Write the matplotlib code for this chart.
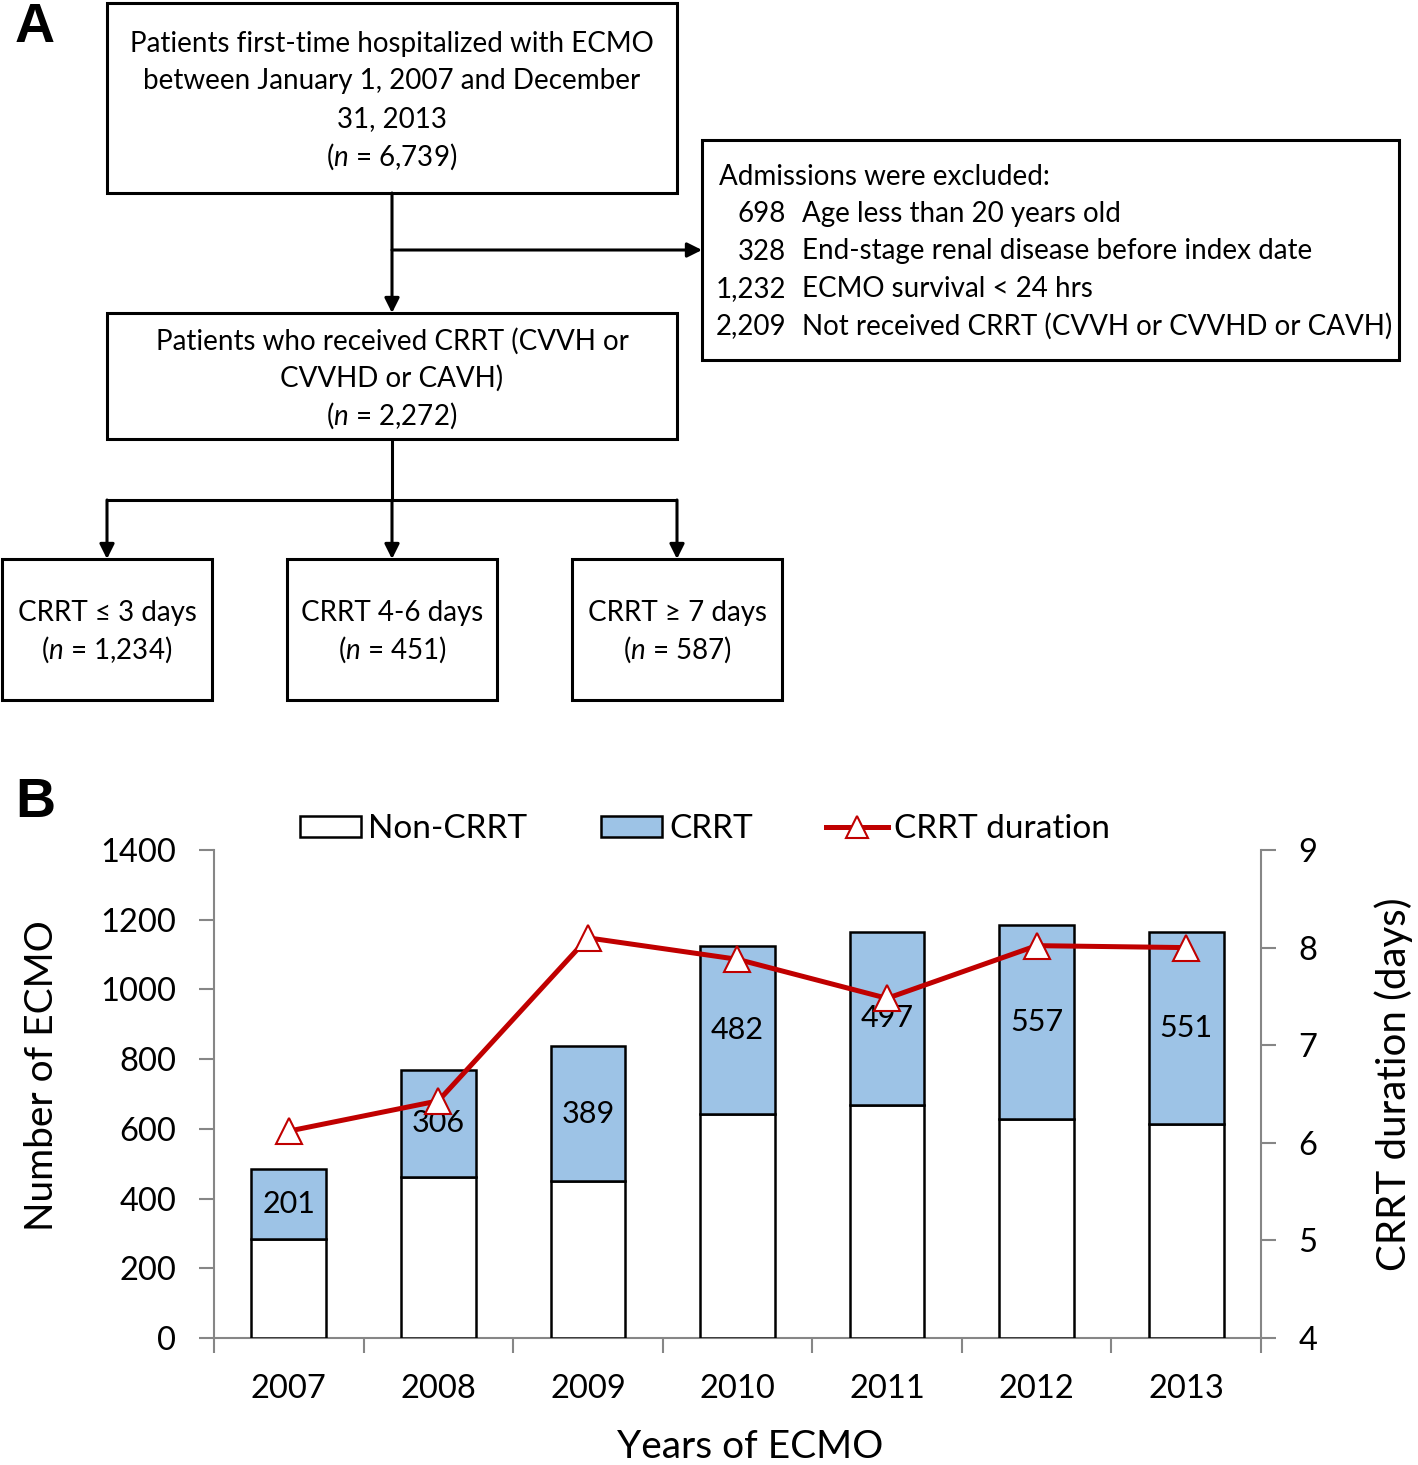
import matplotlib
matplotlib.use('Agg')
import matplotlib.pyplot as plt
from matplotlib.patches import Rectangle, Patch
from matplotlib.lines import Line2D
import numpy as np

plt.rcParams['font.family'] = ['Lato', 'DejaVu Sans']
plt.rcParams['mathtext.fontset'] = 'custom'
plt.rcParams['mathtext.rm'] = 'Lato'
plt.rcParams['mathtext.it'] = 'Lato:italic'

# ---------------- data ----------------
years = ['2007', '2008', '2009', '2010', '2011', '2012', '2013']
non_crrt = [284, 463, 449, 643, 669, 627, 614]
crrt = [201, 306, 389, 482, 497, 557, 551]
crrt_duration = [6.12, 6.43, 8.10, 7.88, 7.48, 8.02, 8.00]
left_ticks = [0, 200, 400, 600, 800, 1000, 1200, 1400]
right_ticks = [4, 5, 6, 7, 8, 9]

box1_lines = ['Patients first-time hospitalized with ECMO',
              'between January 1, 2007 and December',
              '31, 2013',
              r'($\it{n}$ = 6,739)']
box2_lines = ['Patients who received CRRT (CVVH or',
              'CVVHD or CAVH)',
              r'($\it{n}$ = 2,272)']
excl_title = 'Admissions were excluded:'
excl_counts = ['698', '328', '1,232', '2,209']
excl_reasons = ['Age less than 20 years old',
                'End-stage renal disease before index date',
                'ECMO survival < 24 hrs',
                'Not received CRRT (CVVH or CVVHD or CAVH)']
group_lines = [('CRRT ≤ 3 days', r'($\it{n}$ = 1,234)'),
               ('CRRT 4-6 days', r'($\it{n}$ = 451)'),
               ('CRRT ≥ 7 days', r'($\it{n}$ = 587)')]

BLUE = '#9DC3E6'
RED = '#C00000'
GRAY = '#868686'
FS_A = 20      # flowchart text
FS_T = 23.5    # tick labels
FS_L = 24      # legend
FS_V = 22      # bar value labels

W, H = 1418, 1465
fig = plt.figure(figsize=(W / 100, H / 100), dpi=100)

# ---------------- Panel A (flowchart) in pixel coordinates ----------------
bg = fig.add_axes([0, 0, 1, 1])
bg.set_xlim(0, W)
bg.set_ylim(H, 0)
bg.axis('off')

def box(x0, y0, x1, y1):
    bg.add_patch(Rectangle((x0, y0), x1 - x0, y1 - y0, fill=False, ec='black', lw=2.2))

def txt(x, y, s, ha='center'):
    bg.text(x, y, s, ha=ha, va='center', fontsize=FS_A, color='black')

def arrow(x0, y0, x1, y1):
    bg.annotate('', xy=(x1, y1), xytext=(x0, y0),
                arrowprops=dict(arrowstyle='-|>', color='black', lw=2.2,
                                mutation_scale=22, shrinkA=0, shrinkB=0))

def seg(x0, y0, x1, y1):
    bg.plot([x0, x1], [y0, y1], color='black', lw=2.2, solid_capstyle='butt')

box(107, 3, 677, 193)
for i, s in enumerate(box1_lines):
    txt(392, 44 + i * 37.5, s)

box(702, 140, 1399, 360)
txt(719, 177, excl_title, ha='left')
for i, (c, r) in enumerate(zip(excl_counts, excl_reasons)):
    txt(786, 214 + i * 37.5, c, ha='right')
    txt(802, 214 + i * 37.5, r, ha='left')

box(107, 313, 677, 439)
for i, s in enumerate(box2_lines):
    txt(392, 341 + i * 37.5, s)

arrow(392, 193, 392, 313)
arrow(392, 250, 702, 250)
seg(392, 439, 392, 500)
seg(107, 500, 677, 500)

centers = [107, 392, 677]
for cx, (l1, l2) in zip(centers, group_lines):
    arrow(cx, 500, cx, 559)
    box(cx - 105, 559, cx + 105, 700)
    txt(cx, 613, l1)
    txt(cx, 650, l2)

bg.text(15, 28, 'A', fontsize=40, fontweight='bold', family='Liberation Sans',
        ha='left', va='center')
bg.text(15, 803, 'B', fontsize=40, fontweight='bold', family='Liberation Sans',
        ha='left', va='center')

# ---------------- Panel B (bar chart) ----------------
ax = fig.add_axes([214 / W, 1 - 1338 / H, (1261 - 214) / W, (1338 - 850) / H])
x = np.arange(len(years))
b1 = ax.bar(x, non_crrt, width=0.5, color='white', edgecolor='black', lw=1.8, zorder=3)
b2 = ax.bar(x, crrt, width=0.5, bottom=non_crrt, color=BLUE, edgecolor='black', lw=1.8, zorder=3)
ax.bar_label(b2, labels=[str(v) for v in crrt], label_type='center', fontsize=FS_V)

ax.set_xlim(-0.5, len(years) - 0.5)
ax.set_ylim(left_ticks[0], left_ticks[-1])
ax.set_yticks(left_ticks)
ax.set_yticklabels([str(t) for t in left_ticks])
ax.set_xticks(np.arange(-0.5, len(years)))
ax.set_xticklabels([])
ax.set_xticks(x, minor=True)
ax.set_xticklabels(years, minor=True)
ax.tick_params(axis='x', which='major', length=11, width=1.5, color=GRAY, direction='out')
ax.tick_params(axis='x', which='minor', length=0, labelsize=FS_T, pad=26)
ax.tick_params(axis='y', length=11, width=1.5, color=GRAY, labelsize=FS_T, pad=16)
for sp in ['top', 'right']:
    ax.spines[sp].set_visible(False)
for sp in ['left', 'bottom']:
    ax.spines[sp].set_color(GRAY)
    ax.spines[sp].set_linewidth(1.5)

ax2 = ax.twinx()
ax2.plot(x, crrt_duration, color=RED, lw=3.6, marker='^', ms=19,
         mfc='white', mec=RED, mew=1.5, zorder=5)
ax2.set_ylim(right_ticks[0], right_ticks[-1])
ax2.set_yticks(right_ticks)
ax2.tick_params(axis='y', length=11, width=1.5, color=GRAY, labelsize=FS_T, pad=16)
for sp in ['top', 'left', 'bottom']:
    ax2.spines[sp].set_visible(False)
ax2.spines['right'].set_color(GRAY)
ax2.spines['right'].set_linewidth(1.5)

fig.text(42 / W, 1 - 1076 / H, 'Number of ECMO', rotation=90, ha='center', va='center', fontsize=28)
fig.text(1394 / W, 1 - 1084 / H, 'CRRT duration (days)', rotation=90, ha='center', va='center', fontsize=29)
fig.text(750 / W, 1 - 1447 / H, 'Years of ECMO', ha='center', va='center', fontsize=28)

handles = [Patch(fc='white', ec='black', lw=1.8),
           Patch(fc=BLUE, ec='black', lw=1.8),
           Line2D([], [], color=RED, lw=3.6, marker='^', ms=16, mfc='white', mec=RED, mew=1.5)]
fig.legend(handles, ['Non-CRRT', 'CRRT', 'CRRT duration'], loc='center',
           bbox_to_anchor=(705 / W, 1 - 829 / H), ncol=3, frameon=False, fontsize=FS_L,
           handlelength=1.85, handleheight=0.6, handletextpad=0.2, columnspacing=2.2)

fig.savefig('out.png', dpi=100)
